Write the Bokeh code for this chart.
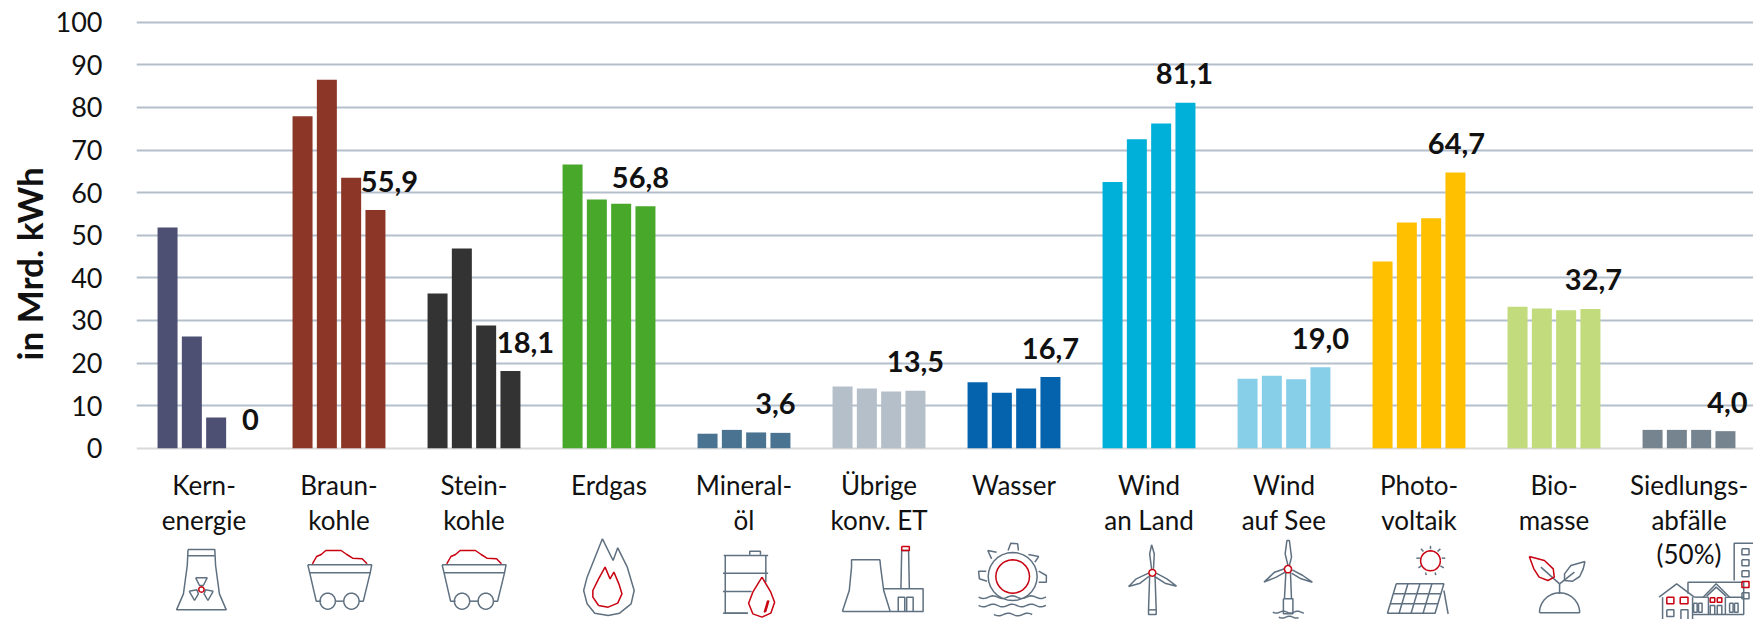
import math
from bokeh.plotting import figure
from bokeh.models import Range1d, FixedTicker, LinearAxis, Grid, ColumnDataSource, Title
from bokeh.core.properties import value
from bokeh.embed import file_html
from bokeh.resources import INLINE

categories = ["Kern-\nenergie", "Braun-\nkohle", "Stein-\nkohle", "Erdgas", "Mineral-\nöl", "Übrige\nkonv. ET",
              "Wasser", "Wind\nan Land", "Wind\nauf See", "Photo-\nvoltaik", "Bio-\nmasse", "Siedlungs-\nabfälle\n(50%)"]
kern = [51.8, 26.2, 7.2, 0]
braun = [77.9, 86.5, 63.5, 55.9]
stein = [36.3, 46.9, 28.8, 18.1]
erdgas = [66.6, 58.4, 57.4, 56.8]
mineral = [3.4, 4.3, 3.7, 3.6]
uebrige = [14.5, 14.0, 13.3, 13.5]
wasser = [15.5, 13.0, 14.0, 16.7]
wind_land = [62.5, 72.5, 76.2, 81.1]
wind_see = [16.3, 17.0, 16.2, 19.0]
photo = [43.8, 53.0, 54.0, 64.7]
bio = [33.2, 32.8, 32.4, 32.7]
siedlung = [4.3, 4.3, 4.3, 4.0]
series = [kern, braun, stein, erdgas, mineral, uebrige, wasser, wind_land, wind_see, photo, bio, siedlung]
labels = ["0", "55,9", "18,1", "56,8", "3,6", "13,5", "16,7", "81,1", "19,0", "64,7", "32,7", "4,0"]
colors = ["#4D4F73", "#8B3626", "#333333", "#47A82A", "#4A7391", "#B4BFCA",
          "#0563AE", "#00B0D9", "#87CEE8", "#FFC000", "#C2DB7C", "#75848F"]
y_ticks = list(range(0, 101, 10))
label_shift = [10, 14, 15, -5, -5, 0, 0, -1, 0, 1, 3, 2]

FONT = "Lato"
W, H = 1753, 619
LEFT = 136; RIGHT = W; Y0 = 447.7; PX_UNIT = 4.26; GROUP = 135.0
BAR_W = 20 / GROUP; STEP = 24.3 / GROUP
dx = lambda px: (px - LEFT) / GROUP
dy = lambda py: (Y0 - py) / PX_UNIT

p = figure(width=W, height=H, output_backend="svg", toolbar_location=None,
           x_range=Range1d(0, (RIGHT - LEFT) / GROUP), y_range=Range1d(dy(H), dy(0)),
           x_axis_type=None, y_axis_type=None,
           min_border_left=LEFT, min_border_right=0, min_border_top=0, min_border_bottom=0)
p.outline_line_color = None
p.grid.visible = False

yaxis = LinearAxis(ticker=FixedTicker(ticks=y_ticks),
                   axis_line_color=None, major_tick_line_color=None, minor_tick_line_color=None,
                   major_label_text_font=FONT, major_label_text_font_size="27px", major_label_text_color="#111111",
                   major_label_standoff=28)
p.add_layout(yaxis, "left")
p.add_layout(Title(text="in Mrd. kWh", align="left", offset=H - 360, standoff=5, text_font=FONT, text_font_size="35px",
                   text_font_style="bold", text_color="#111111"), "left")
p.add_layout(Grid(dimension=1, ticker=FixedTicker(ticks=y_ticks[1:]), grid_line_color="#B4BFCC", grid_line_width=2))
p.add_layout(Grid(dimension=1, ticker=FixedTicker(ticks=[0]), grid_line_color="#D9D9D9", grid_line_width=2))

for i, vals in enumerate(series):
    xs = [i + 0.5 + (j - 1.5) * STEP for j in range(4)]
    p.vbar(x=xs, top=vals, bottom=0, width=BAR_W, color=colors[i], line_color=None)

last = [s[-1] for s in series]
src = ColumnDataSource(dict(x=[i + 0.5 + 1.5 * STEP for i in range(12)], y=last, t=labels, dx=label_shift))
p.text(x="x", y="y", text="t", source=src, x_offset="dx", y_offset=-29, text_align="center", text_baseline="middle",
       text_font=value(FONT), text_font_size="29px", text_font_style="bold", text_color="#111111")
p.text(x=[i + 0.5 for i in range(12)], y=[dy(468.5)] * 12, text=categories, text_align="center", text_baseline="top",
       text_font=value(FONT), text_font_size="26px", text_color="#111111", text_line_height=1.08)

# --- pictograms (decoration): outlines in crop space, converted to the chart's units
def ell(cx, cy, rx, ry, a0=0, a1=360, n=28):
    return [(cx + rx * math.cos(math.radians(a0 + (a1 - a0) * k / n)), cy + ry * math.sin(math.radians(a0 + (a1 - a0) * k / n))) for k in range(n + 1)]
def rect(x0, y0, x1, y1):
    return [(x0, y0), (x1, y0), (x1, y1), (x0, y1), (x0, y0)]
def wave(x0, x1, y, amp=4, per=50):
    return [(x, y + amp * math.sin((x - x0) * 2 * math.pi / per)) for x in range(int(x0), int(x1) + 1, 4)]
def closed(*pts):
    return list(pts) + [pts[0]]

GREY, RED = "#5F7080", "#C8000F"
def cart(o):
    return [[(803+o,343),(970+o,343),(966+o,367),(808+o,367),(803+o,343)],
            [(808+o,367),(825+o,452),(838+o,452)], [(966+o,367),(948+o,452),(937+o,452)],
            ell(855+o,452,20,24), ell(917+o,452,20,24), [(875+o,452),(897+o,452)]]
def heap(o):
    return [[(815+o,340),(826+o,318),(838+o,312),(850+o,300),(890+o,300),(905+o,312),(920+o,323),(945+o,325),(958+o,340)]]

icons = [
 (0, 2.613,
  [[(490,297),(488,345),(478,430),(460,478),(590,478),(572,430),(562,345),(560,297),(490,297)], [(490,316),(560,316)],
   closed((510,382),(540,382),(530,405),(520,405)), closed((493,422),(513,418),(517,430),(507,450)), closed((556,422),(536,418),(532,430),(542,450))] + cart(0) + cart(351),
  [ell(525,417,7,8)] + heap(0) + heap(351)),
 (600, 2.613,
  [[(5,265),(33,330),(45,292),(70,350),(88,420),(80,460),(50,488),(20,495),(-15,488),(-35,460),(-44,420),(-35,380),(5,265)],
   [(326,315),(326,488),(385,488)], [(432,315),(432,395)], [(322,315),(438,315)], [(320,368),(438,368)], [(320,423),(395,423)], [(320,488),(385,488)],
   [(390,313),(390,302),(418,302),(418,313)],
   [(632,483),(650,420),(656,350),(656,328),(730,328),(732,350),(740,420),(757,483),(632,483)], [(740,415),(843,415),(843,483),(757,483)],
   [(785,415),(787,300),(805,300),(807,415)], [(778,483),(778,440),(795,440),(795,483)], [(800,483),(800,440),(817,440),(817,483)],
   ell(1077,378,64,72),
   [(1065,300),(1072,278),(1090,280),(1092,300)], [(1022,325),(1012,300),(1035,305)], [(1118,312),(1145,318),(1135,335)],
   [(1008,362),(988,362),(990,385),(1010,392)], [(1145,362),(1165,375),(1165,395),(1145,395)],
   wave(988,1165,440), wave(988,1165,465), wave(1028,1128,492),
   [(1435,375),(1432,478),(1432,492),(1452,492),(1452,478),(1449,375)], [(1432,478),(1452,478)],
   [(1440,355),(1435,310),(1440,283),(1447,310),(1445,355)], [(1432,368),(1400,385),(1380,408),(1410,398),(1436,375)], [(1452,368),(1480,385),(1505,407),(1475,398),(1448,378)]],
  [[(-5,465),(-20,440),(-20,420),(-5,385),(12,350),(25,385),(35,365),(48,400),(56,430),(45,458),(20,470),(-5,465)],
   [(422,380),(445,425),(455,455),(445,488),(422,500),(398,490),(387,458),(398,425),(422,380)], [(440,450),(432,482),(428,485),(437,450)],
   rect(787,288,807,300), ell(1077,378,44,50), ell(1442,367,9,10)]),
 (1200, 2.835,
  [[(242,365),(238,445)], [(255,365),(258,445)], rect(235,445,262,490),
   [(248,345),(240,310),(245,270),(252,270),(258,320),(252,345)], [(238,355),(210,365),(180,395),(215,380),(240,365)], [(260,358),(290,375),(317,395),(285,385),(258,368)],
   wave(205,295,485,3,40), wave(222,278,500,3,40),
   [(612,323),(622,323)], [(684,323),(694,323)], [(625,295),(632,303)], [(680,295),(672,303)], [(652,286),(652,296)], [(618,352),(626,346)], [(690,352),(680,346)], [(638,366),(640,374)], [(665,366),(667,374)],
   closed((555,400),(690,400),(665,488),(530,488)), [(547,430),(682,430)], [(538,460),(673,460)], [(588,400),(563,488)], [(622,400),(597,488)], [(656,400),(631,488)], [(690,420),(702,490)],
   [(962,487),(1075,487)], ell(1018,487,57,60,180,360), [(1018,430),(1018,400)], [(1018,400),(965,350)], [(1018,400),(1060,365)],
   closed((1090,333),(1050,345),(1032,370),(1032,390),(1055,392),(1075,378),(1085,355)),
   [(1513,390),(1513,278),(1568,278)], rect(1535,295,1555,313), rect(1535,328,1555,346), rect(1535,361,1555,379), rect(1535,427,1555,445),
   [(1382,430),(1382,395),(1540,395),(1540,440)], [(1300,440),(1350,400),(1400,440)], [(1310,440),(1310,507)], [(1395,440),(1395,507)], rect(1322,478,1342,498), [(1362,507),(1362,478),(1382,478),(1382,507)],
   [(1425,440),(1462,400),(1500,440)], [(1435,437),(1462,410),(1490,437)], [(1440,440),(1440,492)], [(1488,440),(1488,492)], [(1445,492),(1445,465),(1458,465),(1458,492)], [(1465,492),(1465,465),(1478,465),(1478,492)],
   rect(1398,458,1408,485), rect(1412,458,1422,485), rect(1500,458,1510,485), rect(1514,458,1524,485), [(1395,492),(1540,492),(1540,440),(1488,440)], [(1400,440),(1440,440)]],
  [ell(248,356,10,11), ell(652,331,28,30),
   closed((932,318),(975,330),(1000,355),(1003,380),(985,390),(960,380),(945,355)),
   rect(1322,440,1342,460), rect(1360,440,1382,460), rect(1445,442,1458,455), rect(1465,442,1478,455), rect(1535,393,1555,411)]),
]
for crop, sx, grey, red in icons:
    for lines, col in ((grey, GREY), (red, RED)):
        xs = [[dx(crop + a / sx) for a, b in ln] for ln in lines]
        ys = [[dy(450 + b / 3) for a, b in ln] for ln in lines]
        p.multi_line(xs, ys, line_color=col, line_width=1.5)

open("out.html", "w").write(file_html(p, INLINE))
